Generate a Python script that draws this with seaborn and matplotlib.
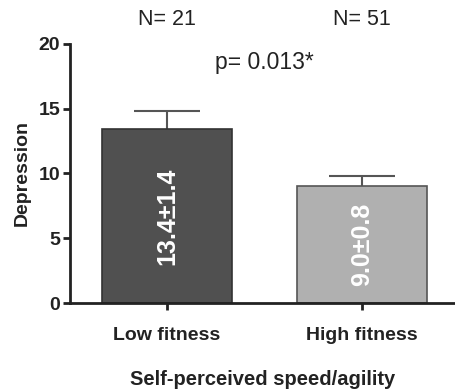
import matplotlib
matplotlib.use("Agg")
import numpy as np
import matplotlib.pyplot as plt
import seaborn as sns

groups = ["Low fitness", "High fitness"]
means = [13.4, 9.0]
sems = [1.4, 0.8]
counts = [21, 51]
bar_colors = ["#505050", "#b0b0b0"]
edge_colors = ["#333333", "#555555"]
p_label = "p= 0.013*"

sns.set_style("ticks")
plt.rcParams["font.family"] = ["Liberation Sans", "DejaVu Sans"]

fig = plt.figure(figsize=(4.55, 3.92), dpi=100)
ax = fig.add_axes([0.154, 0.227, 0.846, 0.661])

sns.barplot(x=groups, y=means, hue=groups, palette=bar_colors, legend=False,
            width=0.667, ax=ax, errorbar=None, saturation=1, zorder=2)
for patch, ec in zip(ax.patches, edge_colors):
    patch.set_edgecolor(ec)
    patch.set_linewidth(1.2)

# one-sided error bars (SEM upward only)
xpos = np.arange(len(groups))
tops = np.array(means) + np.array(sems)
ax.vlines(xpos, means, tops, color="#555555", linewidth=1.5, zorder=1)
ax.hlines(tops, xpos - 0.167, xpos + 0.167, color="#555555", linewidth=1.5, zorder=1)

for x, m, s in zip(xpos, means, sems):
    ax.text(x, m / 2, f"{m:.1f}\u00b1{s:.1f}", rotation=90, ha="center", va="center",
            color="white", fontsize=18, fontweight="bold", zorder=3)

for x, n in zip(xpos, counts):
    ax.text(x, 21.85, f"N= {n}", ha="center", va="center", fontsize=15.5,
            color="#222222", clip_on=False)
ax.text(0.5, 18.6, p_label, ha="center", va="center", fontsize=16.5, color="#222222")

ax.set_ylim(0, 20)
ax.set_xlim(-0.497, 1.477)
ax.set_yticks([0, 5, 10, 15, 20])
ax.set_ylabel("Depression", fontsize=14, fontweight="bold", color="#222222", labelpad=6)
ax.set_xlabel("Self-perceived speed/agility", fontsize=14.5, fontweight="bold",
              color="#222222", labelpad=19)
ax.tick_params(axis="both", width=2, length=5, color="#222222", labelsize=14,
               labelcolor="#222222")
ax.tick_params(axis="x", pad=12)
ax.tick_params(axis="y", pad=2)
for lab in ax.get_xticklabels() + ax.get_yticklabels():
    lab.set_fontweight("bold")
for side in ["left", "bottom"]:
    ax.spines[side].set_linewidth(2)
    ax.spines[side].set_color("#222222")
sns.despine(ax=ax)

fig.savefig("out.png", dpi=100)
